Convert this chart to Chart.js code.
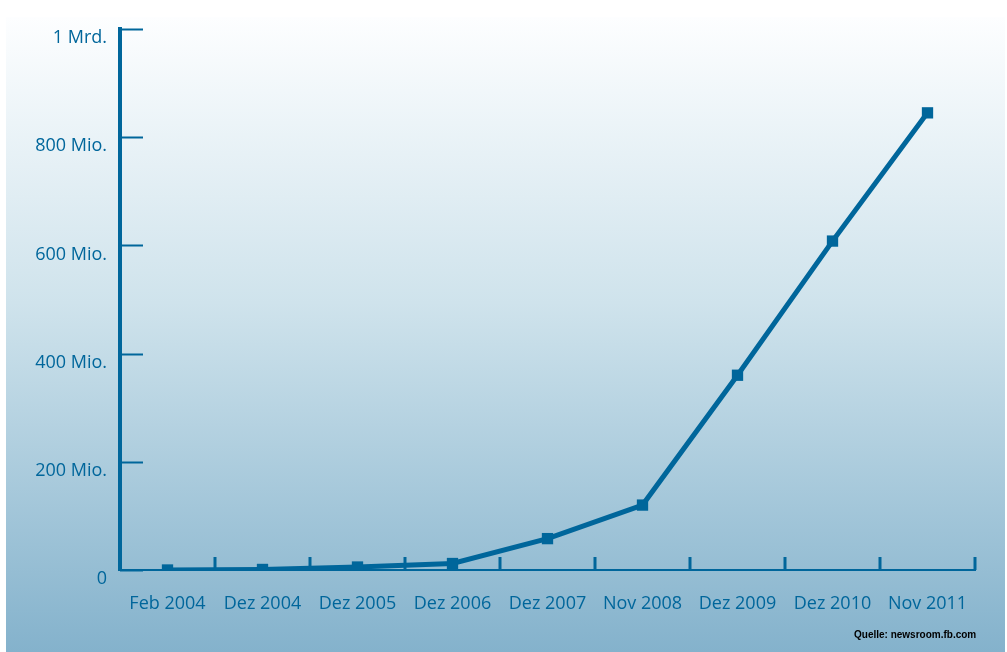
<!DOCTYPE html>
<html lang="de">

<head>
    <meta charset="UTF-8">
    <title>Facebook Nutzer</title>
    <script src="https://cdn.jsdelivr.net/npm/chart.js"></script>
    <style>
        html, body { margin: 0; padding: 0; background: #fff; }
        .wrap { position: relative; width: 1007px; height: 652px; }
        #source {
            position: absolute; left: 854px; top: 629px;
            font: bold 10px "Liberation Sans", sans-serif; color: #000;
        }
    </style>
</head>

<body>
    <div class="wrap">
        <canvas id="usersChart" width="1007" height="652"></canvas>
        <div id="source">Quelle: newsroom.fb.com</div>
    </div>

    <script>
        // Monatlich aktive Nutzer (in Mio.)
        const labels = ["Feb 2004", "Dez 2004", "Dez 2005", "Dez 2006", "Dez 2007", "Nov 2008", "Dez 2009", "Dez 2010", "Nov 2011"];
        const users = [0, 1, 5.5, 12, 58, 120, 360, 608, 845];
        const yTicks = [0, 200, 400, 600, 800, 1000];

        const blue = "#00669b";

        // Hintergrund + Achsenstriche nach innen
        const decor = {
            id: "decor",
            beforeDraw(chart) {
                const ctx = chart.ctx;
                ctx.save();
                ctx.fillStyle = "#ffffff";
                ctx.fillRect(0, 0, chart.width, chart.height);
                const g = ctx.createLinearGradient(0, 17, 0, chart.height);
                g.addColorStop(0, "#fdfeff");
                g.addColorStop(0.45, "#cfe3ec");
                g.addColorStop(1, "#84b2cc");
                ctx.fillStyle = g;
                ctx.fillRect(6, 17, 999, chart.height - 17);
                ctx.restore();
            },
            beforeDatasetsDraw(chart) {
                const ctx = chart.ctx;
                const x = chart.scales.x, y = chart.scales.y;
                const area = chart.chartArea;
                ctx.save();
                ctx.strokeStyle = blue;
                ctx.lineCap = "butt";
                ctx.lineWidth = 2;
                yTicks.forEach(v => {
                    const py = Math.round(y.getPixelForValue(v)) + 0.5;
                    ctx.beginPath();
                    ctx.moveTo(area.left, py);
                    ctx.lineTo(area.left + 23, py);
                    ctx.stroke();
                });
                ctx.lineWidth = 3;
                for (let i = 1; i <= labels.length; i++) {
                    const px = Math.round(x.getPixelForValue(i - 0.5));
                    ctx.beginPath();
                    ctx.moveTo(px, area.bottom);
                    ctx.lineTo(px, area.bottom - 13);
                    ctx.stroke();
                }
                ctx.restore();
            }
        };

        const ctx = document.getElementById("usersChart").getContext("2d");
        new Chart(ctx, {
            type: "line",
            data: {
                labels: labels,
                datasets: [{
                    data: users,
                    borderColor: blue,
                    backgroundColor: blue,
                    borderWidth: 5,
                    tension: 0,
                    pointStyle: "rect",
                    pointRadius: 8,
                    pointBorderWidth: 0,
                    pointBackgroundColor: blue,
                }]
            },
            options: {
                responsive: false,
                animation: false,
                layout: { padding: { top: 29, right: 32, left: 0, bottom: 0 } },
                plugins: {
                    legend: { display: false },
                    tooltip: { enabled: false }
                },
                scales: {
                    x: {
                        offset: true,
                        grid: { display: false },
                        border: { display: true, color: blue, width: 2 },
                        ticks: {
                            color: blue,
                            font: { family: "Open Sans", size: 18 },
                            padding: 15,
                            maxRotation: 0,
                            autoSkip: false
                        },
                        afterFit(scale) { scale.height = 82; }
                    },
                    y: {
                        min: 0,
                        max: 1000,
                        grid: { display: false },
                        border: { display: true, color: blue, width: 4 },
                        afterBuildTicks(scale) {
                            scale.ticks = yTicks.map(v => ({ value: v }));
                        },
                        ticks: {
                            color: blue,
                            font: { family: "Open Sans", size: 18 },
                            padding: 5,
                            labelOffset: 9,
                            callback: function (v) {
                                if (v === 0) return "0";
                                if (v === 1000) return "1 Mrd.";
                                return v + " Mio.";
                            }
                        },
                        afterFit(scale) { scale.width = 120; }
                    }
                }
            },
            plugins: [decor]
        });
    </script>
</body>

</html>
